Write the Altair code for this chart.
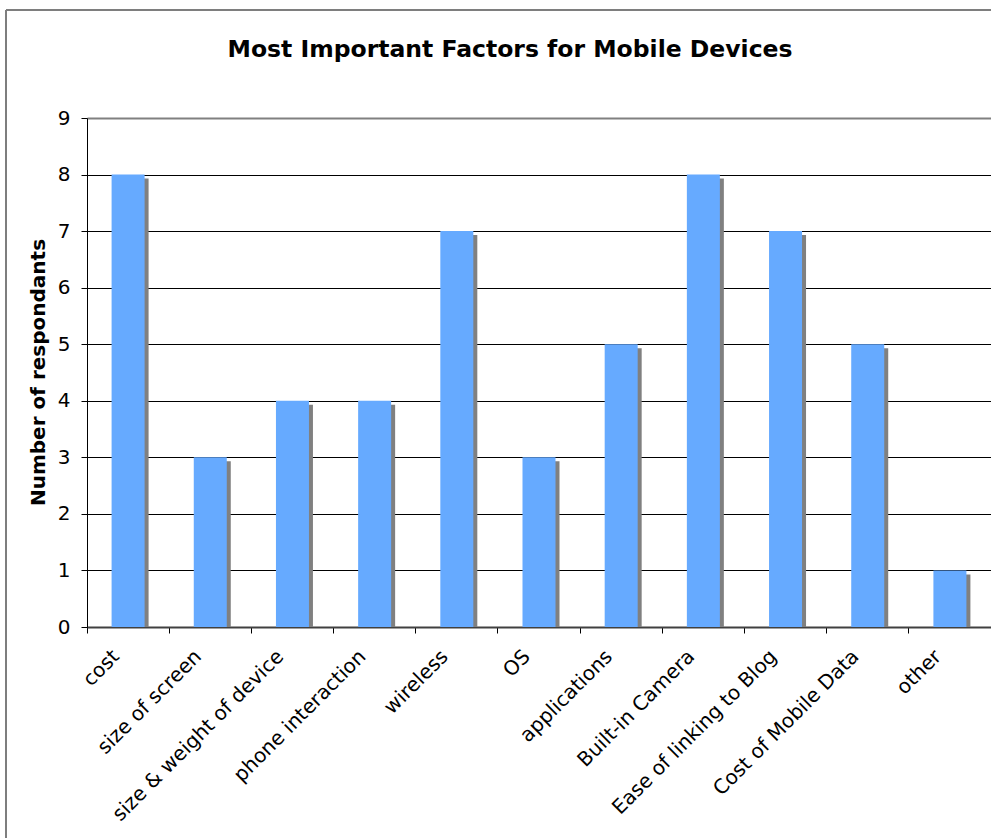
import altair as alt
import pandas as pd

# Survey answers: which factors matter most when choosing a mobile device
factors = [
    "cost",
    "size of screen",
    "size & weight of device",
    "phone interaction",
    "wireless",
    "OS",
    "applications",
    "Built-in Camera",
    "Ease of linking to Blog",
    "Cost of Mobile Data",
    "other",
]
respondents = [8, 3, 4, 4, 7, 3, 5, 8, 7, 5, 1]
y_ticks = list(range(10))
chart_title = "Most Important Factors for Mobile Devices"

df = pd.DataFrame({"factor": factors, "count": respondents})

FONT = "DejaVu Sans"
BAR_BLUE = "#66AAFF"
SHADOW = "#808080"

x_enc = alt.X(
    "factor:N",
    sort=factors,
    scale=alt.Scale(paddingInner=0, paddingOuter=0),
    axis=alt.Axis(
        title=None,
        bandPosition=0,
        labelAngle=-45,
        labelAlign="right",
        labelBaseline="top",
        labelOffset=-19,
        labelPadding=13,
        labelFontSize=20,
        labelLimit=0,
        labelColor="black",
        labelFont=FONT,
        tickColor="black",
        tickSize=6,
        domainColor="#404040",
        domainWidth=2,
        grid=False,
    ),
)

y_enc = alt.Y(
    "count:Q",
    scale=alt.Scale(domain=[0, 9], nice=False, zero=True),
    axis=alt.Axis(
        title="Number of respondants",
        titleFont=FONT,
        titleFontSize=20,
        titleFontWeight="bold",
        titleColor="black",
        titleX=-49,
        titleY=254,
        titleBaseline="middle",
        titleAlign="center",
        values=y_ticks,
        format="d",
        labelFont=FONT,
        labelFontSize=20,
        labelColor="black",
        labelPadding=11,
        tickColor="black",
        tickSize=6,
        domainColor="black",
        domainWidth=1,
        grid=True,
        gridColor=alt.condition("datum.value == 9", alt.value("#808080"), alt.value("black")),
        gridWidth=alt.condition("datum.value == 9", alt.value(2), alt.value(1)),
    ),
)

# drop shadow behind each bar, nudged right and down, resting on the axis
shadow = alt.Chart(df).mark_bar(
    size=33, color=SHADOW, xOffset=4, yOffset=4
).encode(x=x_enc, y=y_enc, y2=alt.datum(0))

bars = alt.Chart(df).mark_bar(size=33, color=BAR_BLUE).encode(x=x_enc, y=y_enc)

# thin frame around the whole chart
frame_left = alt.Chart(df).mark_rule(color="#7f7f7f", strokeWidth=1).encode(
    x=alt.value(-81), y=alt.value(-108), y2=alt.value(760)
)
frame_top = alt.Chart(df).mark_rule(color="#7f7f7f", strokeWidth=1).encode(
    x=alt.value(-81), x2=alt.value(960), y=alt.value(-108)
)

title_df = pd.DataFrame({"text": [chart_title]})
title = alt.Chart(title_df).mark_text(
    font=FONT,
    fontSize=23.5,
    fontWeight="bold",
    color="black",
    align="center",
    baseline="alphabetic",
).encode(text="text:N", x=alt.value(423), y=alt.value(-61))

chart = (
    alt.layer(shadow, bars, frame_left, frame_top, title)
    .properties(
        width=904,
        height=509,
        autosize=alt.AutoSizeParams(type="none"),
        padding={"left": 87, "top": 118, "right": 0, "bottom": 211},
    )
    .configure_view(fill="#CCCCCC", stroke=None)
    .configure(background="white")
)

chart.save("out.html", embed_options={"renderer": "svg", "actions": False})
